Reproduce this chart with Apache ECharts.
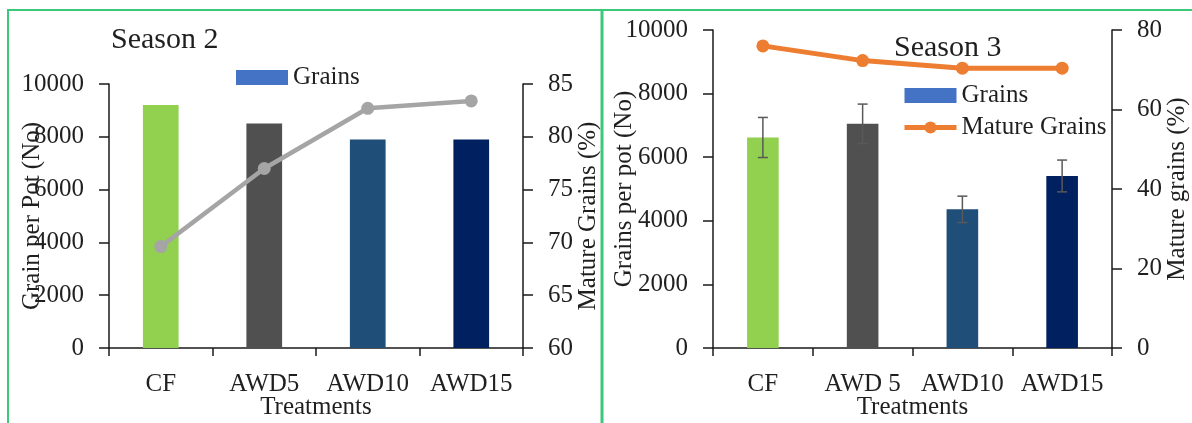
<!DOCTYPE html>
<html>
<head>
<meta charset="utf-8">
<script src="https://cdn.jsdelivr.net/npm/echarts@6/dist/echarts.min.js"></script>
<style>
  html, body { margin: 0; padding: 0; background: #fff; }
  #chart { width: 1192px; height: 423px; }
</style>
</head>
<body>
<div id="chart"></div>
<script>
// Treatments shared by both seasons
const treatmentsS2 = ['CF', 'AWD5', 'AWD10', 'AWD15'];
const treatmentsS3 = ['CF', 'AWD 5', 'AWD10', 'AWD15'];

// Season 2: grains per pot (No) and mature grains (%)
const grainsS2 = [9200, 8500, 7900, 7900];
const matureS2 = [69.6, 77.0, 82.7, 83.4];

// Season 3: grains per pot (No) with error, mature grains (%)
const grainsS3 = [6620, 7050, 4360, 5410];
const grainsErrS3 = [630, 620, 415, 500];
const matureS3 = [76.0, 72.3, 70.4, 70.4];

// Per-treatment bar colours
const barColors = ['#92d050', '#505050', '#1f4e79', '#002060'];

const FONT = '"Liberation Serif", "Times New Roman", serif';
const TXT = '#1f1f1f';
const AX = '#1a1a1a';

const txt = (size) => ({ fontFamily: FONT, fontSize: size, color: TXT });

function yAxisBase(gridIndex, min, max, interval, name, nameGap, position) {
  return {
    type: 'value', gridIndex, min, max, interval, position,
    name, nameLocation: 'middle', nameGap, nameRotate: 90, nameMoveOverlap: false,
    nameTextStyle: txt(25),
    axisLine: { show: true, lineStyle: { color: AX, width: 1.5 } },
    axisTick: { show: true, length: 10, lineStyle: { color: AX, width: 1.5 } },
    axisLabel: Object.assign(txt(25), { margin: 25, formatter: (v) => String(v) }),
    splitLine: { show: false }
  };
}

function xAxisBase(gridIndex, cats) {
  return {
    type: 'category', gridIndex, data: cats, boundaryGap: true,
    name: 'Treatments', nameLocation: 'middle', nameGap: 47, nameMoveOverlap: false,
    nameTextStyle: txt(25),
    axisLine: { lineStyle: { color: AX, width: 1.5 } },
    axisTick: { show: true, length: 8, alignWithLabel: false, lineStyle: { color: AX, width: 1.5 } },
    axisLabel: Object.assign(txt(25), { margin: 24, interval: 0 })
  };
}

const barData = (vals) => vals.map((v, i) => ({ value: v, itemStyle: { color: barColors[i] } }));

// Error bars for season 3 (mean ± error) drawn through the axis scales
const errData = grainsS3.map((v, i) => [i, v - grainsErrS3[i], v + grainsErrS3[i]]);

const chart = echarts.init(document.getElementById('chart'), null, { renderer: 'canvas' });

chart.setOption({
  animation: false,
  backgroundColor: '#ffffff',
  title: [
    { text: 'Season 2', left: 106, top: 20, textStyle: Object.assign(txt(30), { fontWeight: 'normal' }) },
    { text: 'Season 3', left: 889, top: 28, textStyle: Object.assign(txt(30), { fontWeight: 'normal' }) }
  ],
  legend: [
    {
      data: ['Grains'], left: 231, top: 60, itemWidth: 52, itemHeight: 15,
      icon: 'rect', textStyle: Object.assign(txt(25), { lineHeight: 25 })
    },
    {
      data: [{ name: 'Grains S3', icon: 'rect' }, { name: 'Mature Grains' }],
      left: 897, top: 78, orient: 'vertical',
      itemWidth: 52, itemHeight: 15, itemGap: 7,
      lineStyle: { width: 5 },
      formatter: (n) => n === 'Grains S3' ? 'Grains' : n,
      textStyle: Object.assign(txt(25), { lineHeight: 25 })
    }
  ],
  grid: [
    { left: 109, right: 669, top: 84, bottom: 75, outerBoundsMode: 'none', containLabel: false },
    { left: 713, right: 80, top: 30, bottom: 75, outerBoundsMode: 'none', containLabel: false }
  ],
  xAxis: [xAxisBase(0, treatmentsS2), xAxisBase(1, treatmentsS3)],
  yAxis: [
    yAxisBase(0, 0, 10000, 2000, 'Grain per Pot (No)', 64, 'left'),
    yAxisBase(0, 60, 85, 5, 'Mature Grains (%)', 53, 'right'),
    yAxisBase(1, 0, 10000, 2000, 'Grains per pot (No)', 76, 'left'),
    yAxisBase(1, 0, 80, 20, 'Mature grains (%)', 53, 'right')
  ],
  series: [
    {
      name: 'Grains', type: 'bar', xAxisIndex: 0, yAxisIndex: 0,
      barWidth: '34.5%', itemStyle: { color: '#4472c4' },
      data: barData(grainsS2)
    },
    {
      name: 'Mature S2', type: 'line', xAxisIndex: 0, yAxisIndex: 1,
      data: matureS2, symbol: 'circle', symbolSize: 13,
      lineStyle: { color: '#a5a5a5', width: 4.5 }, itemStyle: { color: '#a5a5a5' }, z: 5
    },
    {
      name: 'Grains S3', type: 'bar', xAxisIndex: 1, yAxisIndex: 2,
      barWidth: '31.7%', itemStyle: { color: '#4472c4' },
      data: barData(grainsS3)
    },
    {
      name: 'Err S3', type: 'custom', xAxisIndex: 1, yAxisIndex: 2, z: 4,
      data: errData,
      renderItem: function (params, api) {
        const x = api.value(0);
        const lo = api.coord([x, api.value(1)]);
        const hi = api.coord([x, api.value(2)]);
        const cap = 5;
        const style = { stroke: '#595959', lineWidth: 1.5 };
        return {
          type: 'group',
          children: [
            { type: 'line', shape: { x1: lo[0], y1: lo[1], x2: hi[0], y2: hi[1] }, style },
            { type: 'line', shape: { x1: hi[0] - cap, y1: hi[1], x2: hi[0] + cap, y2: hi[1] }, style },
            { type: 'line', shape: { x1: lo[0] - cap, y1: lo[1], x2: lo[0] + cap, y2: lo[1] }, style }
          ]
        };
      }
    },
    {
      name: 'Mature Grains', type: 'line', xAxisIndex: 1, yAxisIndex: 3,
      data: matureS3, symbol: 'circle', symbolSize: 13,
      lineStyle: { color: '#ed7d31', width: 5 }, itemStyle: { color: '#ed7d31' }, z: 6
    }
  ],
  graphic: [
    // panel frames
    { type: 'line', shape: { x1: 7, y1: 10, x2: 1192, y2: 10 }, style: { stroke: '#3cc878', lineWidth: 2 } },
    { type: 'line', shape: { x1: 8, y1: 10, x2: 8, y2: 423 }, style: { stroke: '#3cc878', lineWidth: 2 } },
    { type: 'line', shape: { x1: 602, y1: 10, x2: 602, y2: 423 }, style: { stroke: '#3cc878', lineWidth: 3 } }
  ]
});
</script>
</body>
</html>
